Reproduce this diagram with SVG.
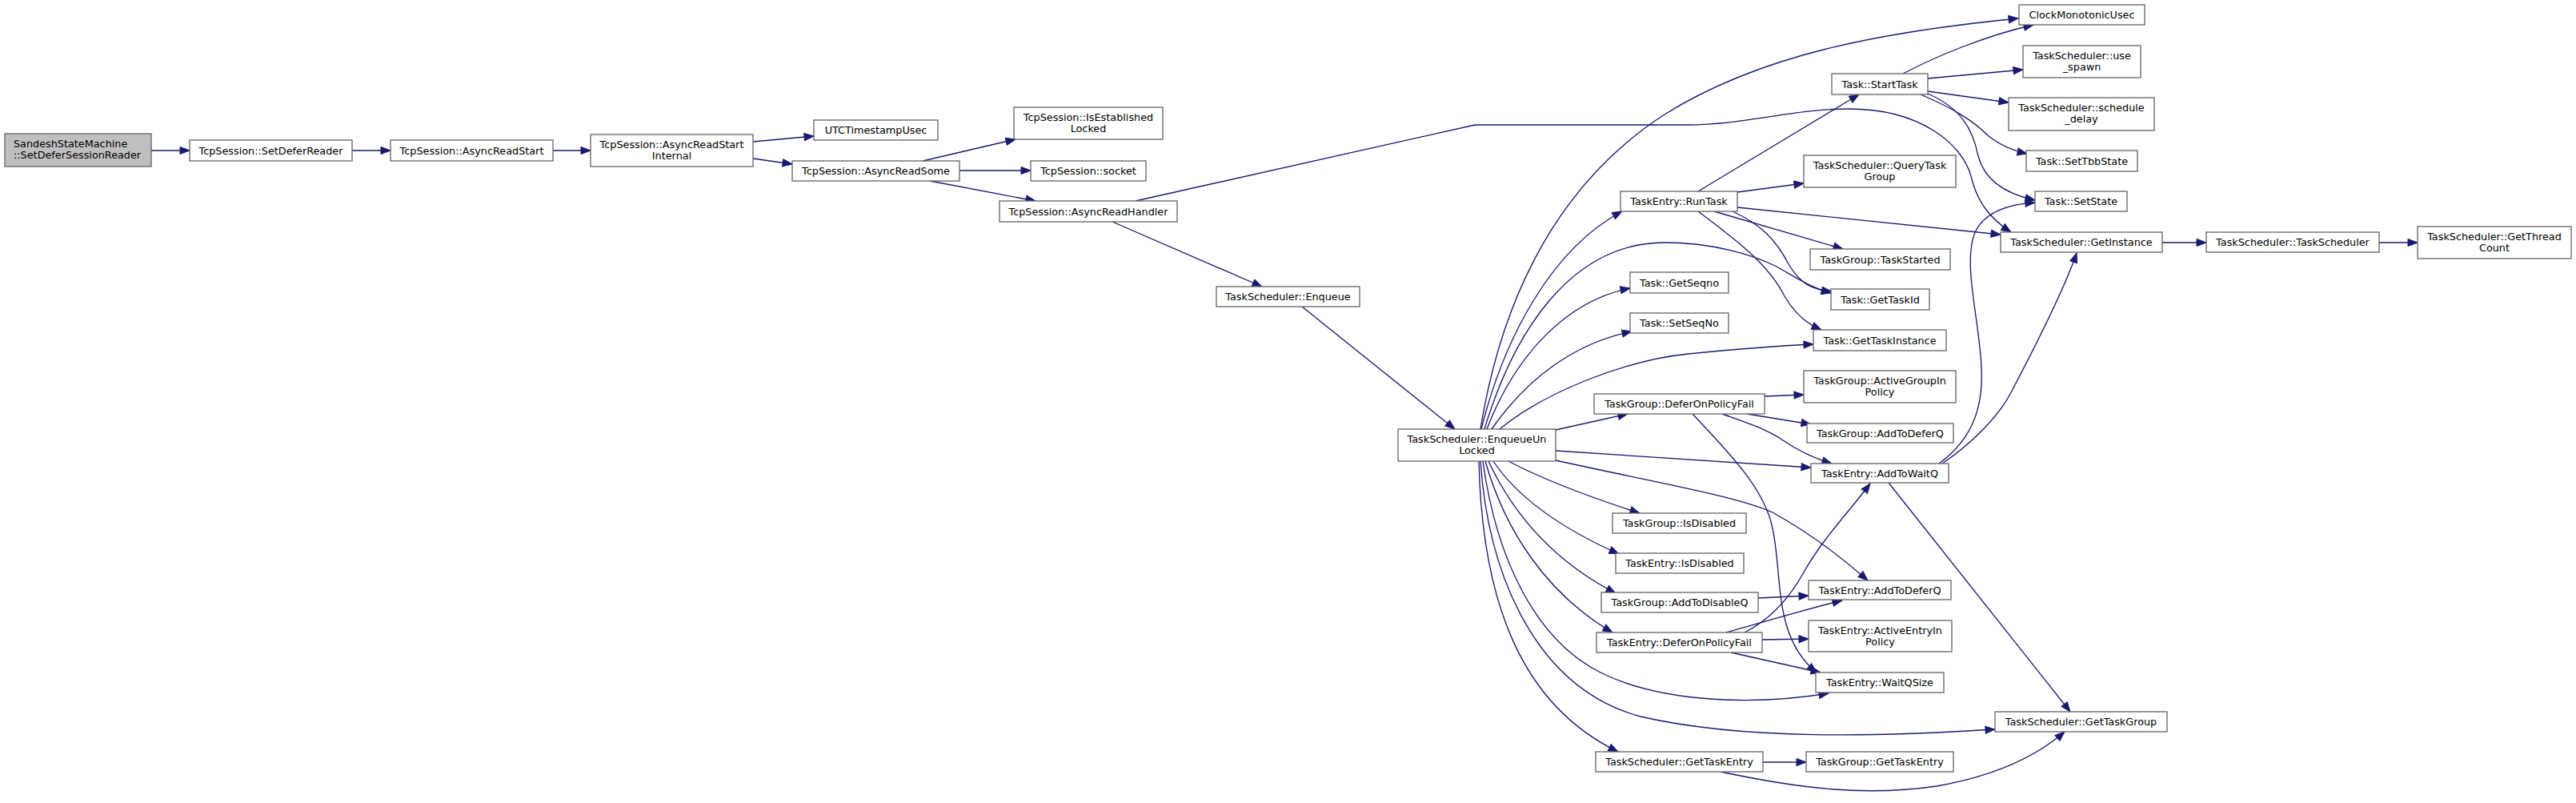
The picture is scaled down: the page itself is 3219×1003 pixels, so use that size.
<svg xmlns="http://www.w3.org/2000/svg" width="3219" height="1003" viewBox="0 0 3219 1003">
<defs>
<style>
.n rect{fill:#ffffff;stroke:#666666;stroke-width:1.33}
.n.s rect{fill:#bfbfbf}
text{font-family:"DejaVu Sans","Liberation Sans",sans-serif;font-size:12.8px;fill:#000000;text-anchor:middle}
.e path{fill:none;stroke:#191970;stroke-width:1.33;marker-end:url(#ah)}
</style>
<marker id="ah" markerUnits="userSpaceOnUse" markerWidth="14" markerHeight="12" refX="12" refY="5" orient="auto" overflow="visible">
<path d="M0,0.4 L12,5 L0,9.6 z" fill="#191970" stroke="#191970" stroke-width="1"/>
</marker>
</defs>
<rect x="0" y="0" width="3219" height="1003" fill="#ffffff"/>
<g id="edges" class="e">
<path d="M189,188 L237,188"/>
<path d="M440,188 L488,188"/>
<path d="M691,188 L738,188"/>
<path d="M941,177 L1017,170"/>
<path d="M941,198 L990,205"/>
<path d="M1153,201 L1269,174"/>
<path d="M1199,213 L1288,213"/>
<path d="M1162,226 L1294,251"/>
<path d="M1390,277 L1577,358"/>
<path d="M1419,251 L1843,156 L2109,156 C2180,156 2240,136 2310,136 C2400,136 2452,180 2463,220 C2470,250 2485,272 2513,290"/>
<path d="M1627,383 L1818,536"/>
<path d="M1850,536 C1872,400 1930,240 2080,143 C2200,68 2350,40 2522,23"/>
<path d="M1851,536 C1880,420 1940,310 2027,264"/>
<path d="M1855,536 C1890,420 1960,303 2080,303 C2140,303 2190,318 2220,333 C2250,350 2265,360 2288,366"/>
<path d="M1858,536 C1895,440 1960,375 2037,360"/>
<path d="M1864,536 C1910,470 1970,428 2039,414"/>
<path d="M1874,536 C1930,490 2030,450 2110,442 C2170,436 2220,432 2266,430"/>
<path d="M1944,537 L2034,517"/>
<path d="M1944,563 L2263,584"/>
<path d="M1944,575 C2080,605 2170,620 2215,640 C2260,665 2300,695 2334,725"/>
<path d="M1885,576 C1930,600 1990,622 2049,641"/>
<path d="M1866,576 C1892,615 1940,655 2023,692"/>
<path d="M1860,576 C1890,640 1940,700 2019,741"/>
<path d="M1856,576 C1880,660 1930,740 2015,790"/>
<path d="M1853,576 C1870,700 1920,800 2000,840 C2080,880 2200,880 2285,866"/>
<path d="M1850,576 C1860,720 1920,860 2050,895 C2180,925 2350,920 2493,911"/>
<path d="M1848,576 C1852,750 1900,880 2022,939"/>
<path d="M2122,239 L2323,118"/>
<path d="M2171,240 L2254,229"/>
<path d="M2171,259 L2500,293"/>
<path d="M2142,264 L2303,311"/>
<path d="M2165,264 C2200,280 2220,300 2235,330 C2250,355 2265,362 2289,364"/>
<path d="M2122,264 C2170,300 2210,330 2230,370 C2245,395 2260,405 2276,412"/>
<path d="M2378,92 C2420,70 2480,45 2541,31"/>
<path d="M2409,98 L2528,87"/>
<path d="M2409,114 L2510,128"/>
<path d="M2400,118 C2440,135 2465,150 2485,170 C2500,182 2515,188 2533,192"/>
<path d="M2409,117 C2450,135 2465,160 2472,195 C2480,225 2505,242 2543,250"/>
<path d="M2423,579 C2470,545 2478,500 2476,460 C2474,400 2452,330 2468,290 C2480,265 2510,255 2543,253"/>
<path d="M2427,579 C2470,550 2500,515 2512,492 C2550,420 2580,360 2595,316"/>
<path d="M2360,603 L2587,889"/>
<path d="M2205,495 L2254,493"/>
<path d="M2183,517 L2263,530"/>
<path d="M2152,517 C2180,527 2205,535 2225,548 C2245,562 2265,572 2289,579"/>
<path d="M2115,517 C2160,565 2205,610 2215,660 C2228,720 2215,795 2270,840"/>
<path d="M2180,790 C2210,775 2235,750 2255,713 C2280,670 2310,640 2337,604"/>
<path d="M2157,790 C2200,778 2260,760 2302,750"/>
<path d="M2202,799 L2260,798"/>
<path d="M2163,815 L2275,840"/>
<path d="M2197,747 L2260,744"/>
<path d="M2203,952 L2257,952"/>
<path d="M2150,964 C2250,985 2330,995 2420,982 C2500,968 2550,940 2580,914"/>
<path d="M2702,303 L2757,303"/>
<path d="M2973,303 L3021,303"/>
</g>
<g id="node0" class="n s"><rect x="6" y="167" width="183" height="41"/><text x="17" y="184" style="text-anchor:start">SandeshStateMachine</text><text x="17" y="198" style="text-anchor:start">::SetDeferSessionReader</text></g>
<g id="node1" class="n"><rect x="237" y="175" width="203" height="26"/><text x="338.5" y="192.5">TcpSession::SetDeferReader</text></g>
<g id="node2" class="n"><rect x="488" y="175" width="203" height="26"/><text x="589.5" y="192.5">TcpSession::AsyncReadStart</text></g>
<g id="node3" class="n"><rect x="738" y="168" width="203" height="40"/><text x="839.5" y="184.5">TcpSession::AsyncReadStart</text><text x="839.5" y="198.5">Internal</text></g>
<g id="node4" class="n"><rect x="1017" y="150" width="155" height="25"/><text x="1094.5" y="167">UTCTimestampUsec</text></g>
<g id="node5" class="n"><rect x="990" y="201" width="209" height="25"/><text x="1094.5" y="218">TcpSession::AsyncReadSome</text></g>
<g id="node6" class="n"><rect x="1267" y="134" width="186" height="40"/><text x="1360" y="150.5">TcpSession::IsEstablished</text><text x="1360" y="164.5">Locked</text></g>
<g id="node7" class="n"><rect x="1288" y="201" width="144" height="25"/><text x="1360" y="218">TcpSession::socket</text></g>
<g id="node8" class="n"><rect x="1249" y="251" width="222" height="26"/><text x="1360" y="268.5">TcpSession::AsyncReadHandler</text></g>
<g id="node9" class="n"><rect x="1520" y="358" width="179" height="25"/><text x="1609.5" y="375">TaskScheduler::Enqueue</text></g>
<g id="node10" class="n"><rect x="1747" y="536" width="197" height="40"/><text x="1845.5" y="552.5">TaskScheduler::EnqueueUn</text><text x="1845.5" y="566.5">Locked</text></g>
<g id="node11" class="n"><rect x="2523" y="6" width="157" height="25"/><text x="2601.5" y="23">ClockMonotonicUsec</text></g>
<g id="node12" class="n"><rect x="2289" y="92" width="120" height="26"/><text x="2349" y="109.5">Task::StartTask</text></g>
<g id="node13" class="n"><rect x="2528" y="57" width="147" height="40"/><text x="2601.5" y="73.5">TaskScheduler::use</text><text x="2601.5" y="87.5">_spawn</text></g>
<g id="node14" class="n"><rect x="2510" y="122" width="182" height="41"/><text x="2601" y="138.5">TaskScheduler::schedule</text><text x="2601" y="152.5">_delay</text></g>
<g id="node15" class="n"><rect x="2532" y="188" width="139" height="26"/><text x="2601.5" y="205.5">Task::SetTbbState</text></g>
<g id="node16" class="n"><rect x="2543" y="239" width="115" height="25"/><text x="2600.5" y="256">Task::SetState</text></g>
<g id="node17" class="n"><rect x="2500" y="290" width="202" height="25"/><text x="2601" y="307">TaskScheduler::GetInstance</text></g>
<g id="node18" class="n"><rect x="2757" y="290" width="216" height="25"/><text x="2865" y="307">TaskScheduler::TaskScheduler</text></g>
<g id="node19" class="n"><rect x="3021" y="283" width="192" height="40"/><text x="3117" y="299.5">TaskScheduler::GetThread</text><text x="3117" y="313.5">Count</text></g>
<g id="node20" class="n"><rect x="2254" y="194" width="190" height="40"/><text x="2349" y="210.5">TaskScheduler::QueryTask</text><text x="2349" y="224.5">Group</text></g>
<g id="node21" class="n"><rect x="2025" y="239" width="146" height="25"/><text x="2098" y="256">TaskEntry::RunTask</text></g>
<g id="node22" class="n"><rect x="2262" y="311" width="175" height="26"/><text x="2349.5" y="328.5">TaskGroup::TaskStarted</text></g>
<g id="node23" class="n"><rect x="2037" y="340" width="123" height="26"/><text x="2098.5" y="357.5">Task::GetSeqno</text></g>
<g id="node24" class="n"><rect x="2288" y="361" width="123" height="26"/><text x="2349.5" y="378.5">Task::GetTaskId</text></g>
<g id="node25" class="n"><rect x="2037" y="391" width="123" height="25"/><text x="2098.5" y="408">Task::SetSeqNo</text></g>
<g id="node26" class="n"><rect x="2266" y="412" width="166" height="26"/><text x="2349" y="429.5">Task::GetTaskInstance</text></g>
<g id="node27" class="n"><rect x="2254" y="463" width="190" height="40"/><text x="2349" y="479.5">TaskGroup::ActiveGroupIn</text><text x="2349" y="493.5">Policy</text></g>
<g id="node28" class="n"><rect x="1992" y="492" width="213" height="25"/><text x="2098.5" y="509">TaskGroup::DeferOnPolicyFail</text></g>
<g id="node29" class="n"><rect x="2258" y="529" width="183" height="24"/><text x="2349.5" y="545.5">TaskGroup::AddToDeferQ</text></g>
<g id="node30" class="n"><rect x="2263" y="579" width="172" height="24"/><text x="2349" y="595.5">TaskEntry::AddToWaitQ</text></g>
<g id="node31" class="n"><rect x="2015" y="641" width="167" height="25"/><text x="2098.5" y="658">TaskGroup::IsDisabled</text></g>
<g id="node32" class="n"><rect x="2019" y="691" width="160" height="25"/><text x="2099" y="708">TaskEntry::IsDisabled</text></g>
<g id="node33" class="n"><rect x="2260" y="725" width="178" height="24"/><text x="2349" y="741.5">TaskEntry::AddToDeferQ</text></g>
<g id="node34" class="n"><rect x="2001" y="740" width="196" height="25"/><text x="2099" y="757">TaskGroup::AddToDisableQ</text></g>
<g id="node35" class="n"><rect x="2260" y="775" width="179" height="39"/><text x="2349.5" y="791.5">TaskEntry::ActiveEntryIn</text><text x="2349.5" y="805.5">Policy</text></g>
<g id="node36" class="n"><rect x="1995" y="790" width="207" height="25"/><text x="2098.5" y="807">TaskEntry::DeferOnPolicyFail</text></g>
<g id="node37" class="n"><rect x="2269" y="840" width="160" height="25"/><text x="2349" y="857">TaskEntry::WaitQSize</text></g>
<g id="node38" class="n"><rect x="2493" y="889" width="215" height="25"/><text x="2600.5" y="906">TaskScheduler::GetTaskGroup</text></g>
<g id="node39" class="n"><rect x="1994" y="939" width="209" height="25"/><text x="2098.5" y="956">TaskScheduler::GetTaskEntry</text></g>
<g id="node40" class="n"><rect x="2257" y="939" width="184" height="25"/><text x="2349" y="956">TaskGroup::GetTaskEntry</text></g>
</svg>
